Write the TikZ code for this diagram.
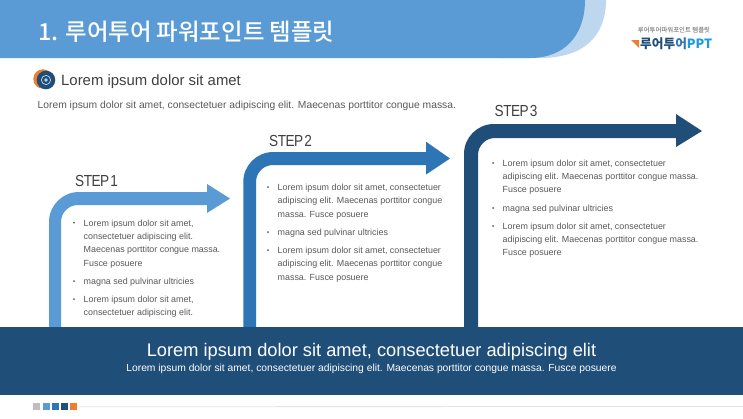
\documentclass[tikz,border=0pt]{standalone}
\usepackage{fontspec}
\setmainfont{Liberation Sans}
\newfontfamily\krfont{Noto Sans CJK KR}
\newfontfamily\krmedium{Noto Sans CJK KR Medium}
\newfontfamily\stepfont{Liberation Sans}[FakeStretch=0.85,LetterSpace=-3,WordSpace=0.35]
\definecolor{hdr}{HTML}{5B9BD5}
\definecolor{hdrl}{HTML}{BDD7EE}
\definecolor{midb}{HTML}{2E75B6}
\definecolor{navy}{HTML}{1F4E79}
\definecolor{txt}{HTML}{595959}
\definecolor{dark}{HTML}{404040}
\definecolor{orng}{HTML}{ED7D31}
\definecolor{skyb}{HTML}{1C9BE0}
\tikzset{
  x=1pt,y=-1pt,
  body/.style={anchor=north west,inner sep=0pt,text=txt,font=\fontsize{8.9}{13.3}\selectfont,align=left},
  steplabel/.style={anchor=west,inner sep=0pt,text=dark,font=\stepfont\fontsize{16}{16}\selectfont},
  swatch/.style={minimum size=7pt,inner sep=0pt,anchor=north west},
}
\newcommand{\stepshape}[9]{%
 % x left, x right, y top, y bottom, head base, head top, head bottom, tip, colour
 \fill[#9] (#1,327) -- (#1,#3+30) .. controls (#1,#3+13.4) and (#1+13.4,#3) .. (#1+30,#3) -- (#5,#3) -- (#5,#6) -- (#8,#3*0.5+#4*0.5) -- (#5,#7) -- (#5,#4)
   -- (#2+17,#4) .. controls (#2+7.6,#4) and (#2,#4+7.6) .. (#2,#4+17) -- (#2,327) -- cycle;
}
\begin{document}
\begin{tikzpicture}
\useasboundingbox (0,0) rectangle (743,418);
\fill[white] (0,0) rectangle (743,418);
% header
\fill[hdrl] (500,0) -- (606,0) .. controls (606,35) and (585,58) .. (540,58) -- (500,58) -- cycle;
\fill[hdr] (0,0) -- (585,0) .. controls (585,35) and (565,58) .. (530,58) -- (0,58) -- cycle;
\node[anchor=west,inner sep=0pt,text=white,font=\krmedium\fontsize{23.4}{23.4}\selectfont] (title) at (38,32) {1. 루어투어 파워포인트 템플릿};
% logo
\node[inner sep=0pt,text=txt,font=\krfont\fontsize{6.4}{6.4}\selectfont] (logotop) at (674,30) {루어투어파워포인트 템플릿};
\fill[orng] (631,40) -- (639,40) -- (639,48) -- cycle;
\node[anchor=west,inner sep=0pt,text=navy,font=\krfont\bfseries\fontsize{12.7}{12.7}\selectfont] (logo) at (640,44) {루어투\textcolor{midb}{어}\textcolor{skyb}{PPT}};
% icon
\fill[orng] (43,79) circle (9.7);
\fill[navy] (46,80) circle (9.3);
\draw[hdrl,line width=.7pt] (46,80) circle (4.6);
\fill[hdrl] (46,80) circle (1.8);
\node[anchor=west,inner sep=0pt,text=dark,font=\fontsize{14.9}{14.9}\selectfont] (head) at (61,81.5) {Lorem ipsum dolor sit amet};
\node[anchor=west,inner sep=0pt,text=txt,font=\fontsize{10.3}{10.3}\selectfont] (sub) at (37.5,106) {Lorem ipsum dolor sit amet, consectetuer adipiscing elit. Maecenas porttitor congue massa.};
% arrows
\stepshape{49}{61}{192}{205}{207}{184}{213}{230}{hdr}
\stepshape{243.3}{256}{152}{165}{426}{141.7}{174.5}{450}{midb}
\stepshape{464}{478}{124}{138}{676}{114}{147}{702}{navy}
% step labels
\node[steplabel] (s1) at (75,181) {STEP 1};
\node[steplabel] (s2) at (269,141) {STEP 2};
\node[steplabel] (s3) at (494.5,111) {STEP 3};
% bullets
\node[body] (b1a) at (83.5,219.5) {Lorem ipsum dolor sit amet,\\consectetuer adipiscing elit.\\Maecenas porttitor congue massa.\\Fusce posuere};
\node[body] (b1b) at (83.5,277.5) {magna sed pulvinar ultricies};
\node[body] (b1c) at (83.5,295.5) {Lorem ipsum dolor sit amet,\\consectetuer adipiscing elit.};
\node[body] (b2a) at (277.5,184) {Lorem ipsum dolor sit amet, consectetuer\\adipiscing elit. Maecenas porttitor congue\\massa. Fusce posuere};
\node[body] (b2b) at (277.5,229) {magna sed pulvinar ultricies};
\node[body] (b2c) at (277.5,247) {Lorem ipsum dolor sit amet, consectetuer\\adipiscing elit. Maecenas porttitor congue\\massa. Fusce posuere};
\node[body] (b3a) at (502.5,159.5) {Lorem ipsum dolor sit amet, consectetuer\\adipiscing elit. Maecenas porttitor congue massa.\\Fusce posuere};
\node[body] (b3b) at (502.5,204.5) {magna sed pulvinar ultricies};
\node[body] (b3c) at (502.5,222.5) {Lorem ipsum dolor sit amet, consectetuer\\adipiscing elit. Maecenas porttitor congue massa.\\Fusce posuere};
\foreach \x/\y in {74/222.5,74/281,74/299,268/187,268/232,268/250,493/163,493/208,493/226}
  \fill[txt] (\x,\y) circle (1);
% band
\fill[navy] (0,327) rectangle (743,395);
\node[inner sep=0pt,text=white,font=\fontsize{18.25}{18.25}\selectfont] (band1) at (371.5,351.5) {Lorem ipsum dolor sit amet, consectetuer adipiscing elit};
\node[inner sep=0pt,text=white,font=\fontsize{10.3}{10.3}\selectfont] (band2) at (371.5,369) {Lorem ipsum dolor sit amet, consectetuer adipiscing elit. Maecenas porttitor congue massa. Fusce posuere};
% footer
\node[swatch,fill=black!25] (f1) at (33,403) {};
\node[swatch,fill=hdr] (f2) at (42.5,403) {};
\node[swatch,fill=midb] (f3) at (51.5,403) {};
\node[swatch,fill=navy] (f4) at (60.5,403) {};
\node[swatch,fill=orng] (f5) at (69.5,403) {};
\coordinate (fend) at (743,406.5);
\draw[black!10,line width=.8pt] (f5.east) ++(2,0) -- (fend);
\end{tikzpicture}
\end{document}
